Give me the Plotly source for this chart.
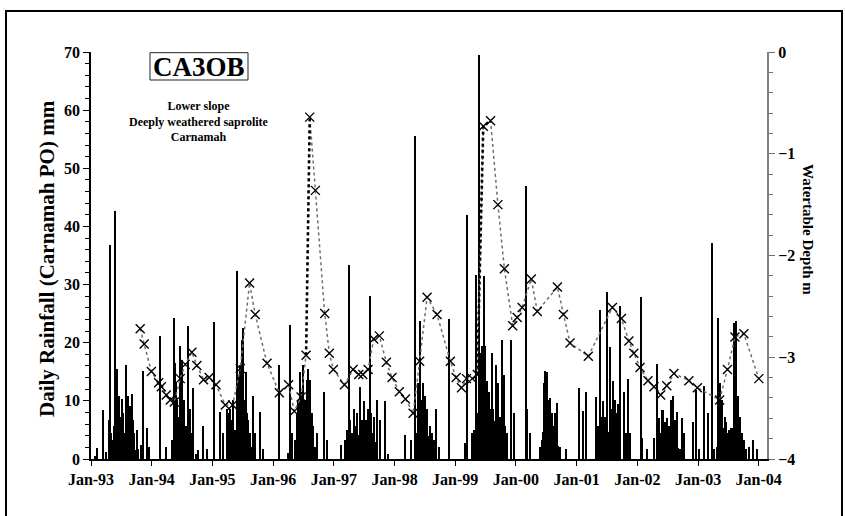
import plotly.graph_objects as go

# ---- daily rainfall, Carnamah PO (month-day, mm) ----
rain_1993 = [("01-26", 0.5), ("02-07", 1.9), ("03-12", 8.5), ("04-02", 1.2), ("04-22", 6.7),
             ("04-26", 36.8), ("04-29", 2.8), ("05-02", 4.4), ("05-07", 1.6), ("05-12", 3.3),
             ("05-16", 2.2), ("05-20", 5.6), ("05-26", 42.6), ("06-01", 10.2), ("06-06", 15.5),
             ("06-10", 3.1), ("06-15", 5.0), ("06-21", 10.8), ("06-25", 2.6), ("06-30", 7.3),
             ("07-06", 10.4), ("07-10", 3.4), ("07-15", 7.9), ("07-20", 2.5), ("07-24", 4.4),
             ("07-31", 16.1), ("08-04", 3.0), ("08-11", 10.8), ("08-15", 2.3), ("08-19", 5.6),
             ("08-25", 9.2), ("08-30", 1.9), ("09-04", 11.2), ("09-10", 6.7), ("09-14", 2.7),
             ("09-19", 4.4), ("09-26", 1.5), ("10-04", 5.0), ("10-14", 1.8), ("10-28", 2.4),
             ("11-13", 15.1), ("12-03", 5.4), ("12-17", 2.1)]
rain_1994 = [("02-21", 21.2), ("03-29", 2.1), ("05-02", 3.3), ("05-10", 2.4), ("05-16", 24.2),
             ("05-22", 16.5), ("05-25", 4.0), ("05-28", 13.1), ("06-05", 10.2), ("06-08", 3.2),
             ("06-11", 7.3), ("06-15", 4.5), ("06-21", 19.4), ("06-27", 3.8), ("07-01", 17.1),
             ("07-05", 4.2), ("07-09", 8.6), ("07-13", 3.0), ("07-17", 10.2), ("07-22", 2.8),
             ("07-27", 5.6), ("08-01", 3.6), ("08-06", 22.9), ("08-10", 2.9), ("08-14", 6.7),
             ("08-20", 8.6), ("08-25", 2.2), ("08-31", 4.4), ("09-04", 1.8), ("09-09", 12.2),
             ("09-25", 0.8), ("10-09", 1.5), ("11-04", 5.6), ("11-29", 1.8)]
rain_1995 = [("01-12", 23.5), ("02-17", 8.0), ("03-09", 4.4), ("03-29", 8.6), ("04-03", 2.5),
             ("04-08", 7.9), ("04-13", 3.1), ("04-18", 8.6), ("04-23", 2.2), ("04-28", 6.7),
             ("05-03", 3.5), ("05-08", 10.2), ("05-13", 2.7), ("05-18", 5.0), ("05-24", 3.9),
             ("05-29", 32.3), ("06-02", 4.6), ("06-07", 14.4), ("06-12", 3.3), ("06-17", 16.1),
             ("06-22", 4.0), ("06-28", 20.5), ("07-02", 3.7), ("07-07", 22.5), ("07-14", 10.2),
             ("07-18", 2.9), ("07-22", 14.9), ("07-28", 7.9), ("08-02", 3.1), ("08-07", 6.7),
             ("08-12", 2.4), ("08-17", 4.4), ("08-25", 2.0), ("09-01", 2.6), ("09-06", 10.8),
             ("09-16", 4.4), ("10-16", 8.0), ("11-05", 1.8)]
rain_1996 = [("02-07", 16.1), ("04-03", 1.0), ("04-13", 23.0), ("04-23", 4.4), ("05-13", 3.3),
             ("05-18", 2.6), ("05-23", 7.9), ("05-28", 3.8), ("06-02", 10.2), ("06-07", 4.4),
             ("06-12", 14.9), ("06-17", 5.2), ("06-22", 11.5), ("06-27", 4.7), ("07-02", 16.1),
             ("07-07", 5.5), ("07-12", 10.2), ("07-17", 4.9), ("07-23", 13.6), ("07-28", 5.3),
             ("08-01", 15.4), ("08-06", 4.1), ("08-12", 13.6), ("08-17", 3.6), ("08-22", 7.9),
             ("08-27", 2.8), ("09-01", 5.6), ("09-08", 2.1), ("09-21", 4.4), ("11-01", 11.5),
             ("11-21", 3.3)]
rain_1997 = [("02-13", 2.4), ("03-11", 3.3), ("03-22", 5.0), ("03-31", 33.4), ("04-05", 2.2),
             ("04-10", 6.7), ("04-15", 2.9), ("04-21", 4.4), ("04-25", 3.3), ("04-30", 8.6),
             ("05-05", 2.6), ("05-10", 5.6), ("05-15", 3.8), ("05-21", 7.9), ("05-27", 4.2),
             ("06-05", 12.4), ("06-10", 3.5), ("06-15", 4.6), ("06-20", 6.7), ("06-25", 3.9),
             ("06-30", 9.9), ("07-05", 3.1), ("07-10", 5.6), ("07-16", 6.7), ("07-20", 3.4),
             ("07-24", 8.6), ("07-30", 2.7), ("08-05", 28.0), ("08-10", 3.0), ("08-14", 7.9),
             ("08-21", 4.4), ("08-25", 2.5), ("08-29", 7.3), ("09-05", 2.0), ("09-10", 3.0),
             ("09-18", 10.2), ("10-08", 6.7), ("11-07", 9.9), ("11-21", 0.8)]
rain_1998 = [("03-07", 4.2), ("04-10", 3.3), ("05-06", 55.5), ("05-10", 3.0), ("05-15", 4.5),
             ("05-20", 13.1), ("05-25", 5.2), ("05-29", 10.8), ("06-02", 4.8), ("06-06", 23.7),
             ("06-10", 5.6), ("06-13", 10.2), ("06-17", 6.0), ("06-22", 13.1), ("06-26", 5.1),
             ("07-01", 10.8), ("07-05", 4.7), ("07-10", 7.3), ("07-13", 3.9), ("07-16", 8.6),
             ("07-21", 3.2), ("07-26", 3.9), ("07-30", 2.8), ("08-05", 5.6), ("08-10", 2.4),
             ("08-15", 4.4), ("08-20", 2.1), ("08-25", 3.3), ("09-01", 1.8), ("09-10", 8.6),
             ("09-28", 2.1), ("11-27", 24.1)]
rain_1999 = [("03-03", 2.7), ("03-13", 42.0), ("04-12", 4.4), ("04-22", 5.0), ("04-30", 3.6),
             ("05-06", 31.7), ("05-10", 5.0), ("05-14", 7.9), ("05-18", 6.4), ("05-22", 69.4),
             ("05-27", 7.5), ("06-01", 18.2), ("06-05", 8.2), ("06-11", 19.4), ("06-16", 9.0),
             ("06-21", 31.5), ("06-26", 7.7), ("07-01", 19.4), ("07-06", 8.1), ("07-12", 13.4),
             ("07-16", 6.6), ("07-21", 11.5), ("07-26", 7.0), ("07-31", 8.6), ("08-05", 6.2),
             ("08-11", 18.2), ("08-15", 5.8), ("08-20", 8.6), ("08-25", 6.5), ("08-30", 4.9),
             ("09-04", 16.1), ("09-08", 5.2), ("09-12", 7.9), ("09-19", 13.1), ("09-25", 4.1),
             ("09-30", 7.3), ("10-05", 3.7), ("10-10", 20.5), ("10-15", 4.3), ("10-20", 14.4),
             ("10-25", 3.0), ("10-30", 5.6), ("11-09", 4.4), ("12-05", 20.5), ("12-19", 7.9)]
rain_2000 = [("03-03", 47.0), ("03-09", 8.6), ("03-28", 4.4), ("05-28", 2.1), ("06-05", 3.2),
             ("06-12", 4.6), ("06-17", 13.1), ("06-22", 5.8), ("06-27", 15.1), ("07-02", 6.3),
             ("07-07", 14.9), ("07-12", 5.1), ("07-17", 10.2), ("07-22", 4.4), ("07-27", 10.5),
             ("08-01", 3.9), ("08-06", 7.9), ("08-11", 3.2), ("08-16", 5.6), ("08-21", 2.8),
             ("08-26", 7.9), ("08-31", 3.5), ("09-05", 9.6), ("09-12", 2.3), ("09-25", 2.1),
             ("11-01", 1.8)]
rain_2001 = [("01-14", 12.2), ("02-09", 8.2), ("02-27", 11.5), ("04-29", 10.7), ("05-03", 2.3),
             ("05-08", 5.6), ("05-14", 4.2), ("05-19", 3.4), ("05-24", 25.6), ("06-01", 7.3),
             ("06-05", 3.1), ("06-10", 9.9), ("06-14", 2.6), ("06-18", 7.3), ("06-25", 4.4),
             ("06-29", 3.0), ("07-04", 28.8), ("07-09", 3.8), ("07-14", 4.6), ("07-19", 19.3),
             ("07-24", 3.5), ("07-28", 8.6), ("08-03", 5.6), ("08-09", 13.4), ("08-13", 2.9),
             ("08-17", 10.2), ("08-23", 5.0), ("08-29", 7.9), ("09-01", 2.2), ("09-06", 9.4),
             ("09-10", 2.0), ("09-14", 4.4), ("09-22", 26.3), ("10-12", 11.5), ("10-26", 4.4),
             ("11-09", 13.8), ("11-17", 4.4)]
rain_2002 = [("01-22", 27.8), ("01-31", 3.6), ("02-26", 1.8), ("04-11", 3.6), ("05-01", 16.4),
             ("05-06", 2.4), ("05-13", 7.0), ("05-17", 2.9), ("05-21", 4.4), ("05-25", 3.1),
             ("05-29", 8.5), ("06-02", 3.6), ("06-06", 8.4), ("06-11", 2.8), ("06-16", 6.3),
             ("06-21", 3.3), ("06-26", 7.0), ("06-30", 2.6), ("07-04", 4.4), ("07-08", 3.0),
             ("07-12", 5.6), ("07-16", 2.7), ("07-20", 10.2), ("07-25", 3.4), ("08-01", 10.8),
             ("08-06", 2.9), ("08-13", 6.7), ("08-17", 2.2), ("08-21", 4.4), ("08-25", 2.5),
             ("08-29", 8.1), ("09-05", 1.9), ("09-14", 1.8), ("09-30", 7.0), ("10-08", 4.4),
             ("11-30", 6.3), ("12-18", 11.9)]
rain_2003 = [("01-06", 1.8), ("02-05", 12.6), ("03-01", 7.9), ("03-28", 37.1), ("04-06", 1.8),
             ("04-23", 2.1), ("05-03", 24.2), ("05-08", 3.4), ("05-12", 13.1), ("05-16", 3.0),
             ("05-21", 7.9), ("05-27", 10.2), ("05-31", 2.8), ("06-05", 5.3), ("06-09", 3.1),
             ("06-14", 7.3), ("06-20", 6.3), ("06-24", 2.5), ("06-28", 4.4), ("07-01", 2.9),
             ("07-05", 5.0), ("07-10", 3.2), ("07-16", 5.3), ("07-21", 2.7), ("07-26", 5.3),
             ("07-31", 3.6), ("08-04", 23.4), ("08-08", 4.5), ("08-11", 16.2), ("08-14", 5.1),
             ("08-17", 23.8), ("08-21", 4.8), ("08-24", 10.8), ("08-27", 3.9), ("08-30", 10.8),
             ("09-03", 3.0), ("09-07", 7.3), ("09-13", 7.3), ("09-18", 2.4), ("09-23", 4.4),
             ("10-03", 3.3), ("10-17", 1.8), ("11-06", 2.1), ("11-28", 3.3), ("12-22", 1.8)]

rain_by_year = {1993: rain_1993, 1994: rain_1994, 1995: rain_1995, 1996: rain_1996,
                1997: rain_1997, 1998: rain_1998, 1999: rain_1999, 2000: rain_2000,
                2001: rain_2001, 2002: rain_2002, 2003: rain_2003}

# ---- watertable depth, bore CA3OB (m) ----
wt_dates = ["1993-10-24", "1993-11-17", "1993-12-30", "1994-02-12", "1994-02-28", "1994-03-30",
            "1994-04-23", "1994-05-17", "1994-06-22", "1994-07-22", "1994-08-31", "1994-09-30",
            "1994-11-09", "1994-12-13", "1995-01-23", "1995-03-20", "1995-05-03", "1995-06-18",
            "1995-08-13", "1995-09-16", "1995-11-26", "1996-02-08", "1996-04-04", "1996-05-08",
            "1996-06-18", "1996-07-18", "1996-08-09", "1996-09-12", "1996-11-07", "1996-12-05",
            "1996-12-29", "1997-03-06", "1997-04-27", "1997-05-31", "1997-06-24", "1997-07-26",
            "1997-08-29", "1997-10-02", "1997-11-13", "1997-12-17", "1998-01-30", "1998-03-08",
            "1998-04-23", "1998-06-01", "1998-07-16", "1998-09-14", "1998-12-03", "1999-01-07",
            "1999-02-08", "1999-03-10", "1999-04-14", "1999-05-14", "1999-06-19", "1999-08-02",
            "1999-09-15", "1999-10-24", "1999-12-13", "2000-01-09", "2000-02-08", "2000-04-03",
            "2000-05-09", "2000-09-07", "2000-10-13", "2000-11-22", "2001-03-12", "2001-08-04",
            "2001-09-27", "2001-11-11", "2001-12-11", "2002-01-17", "2002-03-06", "2002-04-11",
            "2002-05-21", "2002-06-27", "2002-08-09", "2002-11-07", "2002-12-28", "2003-05-11",
            "2003-06-27", "2003-08-11", "2003-10-04", "2004-01-02"]
wt_depth = [-2.72, -2.87, -3.14, -3.25, -3.29, -3.37,
            -3.42, -3.44, -3.21, -3.07, -2.95, -3.08,
            -3.22, -3.20, -3.27, -3.47, -3.47, -3.11,
            -2.27, -2.58, -3.06, -3.35, -3.27, -3.53,
            -3.39, -2.98, -0.64, -1.36, -2.57, -2.96,
            -3.12, -3.27, -3.12, -3.17, -3.17, -3.12,
            -2.82, -2.79, -3.05, -3.20, -3.34, -3.41,
            -3.55, -3.04, -2.41, -2.58, -3.04, -3.20,
            -3.30, -3.21, -3.21, -3.17, -0.73, -0.675,
            -1.50, -2.13, -2.69, -2.61, -2.51, -2.23,
            -2.55, -2.31, -2.58, -2.86, -2.99, -2.51,
            -2.62, -2.84, -2.96, -3.10, -3.23, -3.29,
            -3.37, -3.28, -3.16, -3.23, -3.30, -3.42,
            -3.12, -2.80, -2.77, -3.21]

site_name = "CA3OB"
site_notes = ["Lower slope", "Deeply weathered saprolite", "Carnamah"]

# ---- layout geometry (pixels) ----
W, H = 845, 516
L, R, T, B = 91, 767, 52, 459


def px(x):
    return (x - L) / (R - L)


def py(y):
    return (B - y) / (B - T)


rain_x, rain_y = [], []
for yr, pairs in rain_by_year.items():
    for md, mm in pairs:
        rain_x.append(f"{yr}-{md}")
        rain_y.append(mm)

FONT = "Liberation Serif"
DAY_MS = 86400000

fig = go.Figure()

fig.add_trace(go.Bar(
    x=rain_x, y=rain_y, width=[7 * DAY_MS] * len(rain_x),
    marker=dict(color="black", line=dict(width=0)), yaxis="y",
    hoverinfo="x+y",
))

# dotted watertable line
fig.add_trace(go.Scatter(
    x=wt_dates, y=wt_depth, yaxis="y2", mode="lines",
    line=dict(color="#6e6e6e", width=1.5, dash="dot"), hoverinfo="skip",
))

# rapid recharge rises drawn heavier
rise_x, rise_y = [], []
for i in range(1, len(wt_depth)):
    if wt_depth[i] - wt_depth[i - 1] > 1.5:
        rise_x += [wt_dates[i - 1], wt_dates[i], None]
        rise_y += [wt_depth[i - 1], wt_depth[i], None]
fig.add_trace(go.Scatter(
    x=rise_x, y=rise_y, yaxis="y2", mode="lines",
    line=dict(color="black", width=2.6, dash="dot"), hoverinfo="skip",
))

fig.add_trace(go.Scatter(
    x=wt_dates, y=wt_depth, yaxis="y2", mode="markers",
    marker=dict(symbol="x-thin", size=9, color="black", line=dict(width=1.4, color="black")),
))

tickfont = dict(family=FONT, size=16, color="black", weight="bold")

fig.update_layout(
    width=W, height=H,
    margin=dict(l=L, r=W - R, t=T, b=H - B),
    paper_bgcolor="white", plot_bgcolor="white",
    showlegend=False, bargap=0,
    xaxis=dict(
        type="date", range=["1993-01-01", "2004-02-20"],
        tick0="1993-01-01", dtick="M12", tickformat="%b-%y",
        ticks="outside", ticklen=5, tickwidth=1.2, tickcolor="black",
        showline=True, linecolor="black", linewidth=1.5,
        showgrid=False, zeroline=False, tickfont=tickfont,
    ),
    yaxis=dict(
        range=[0, 70], dtick=10, ticks="outside", ticklen=6, tickwidth=1.2, tickcolor="black",
        minor=dict(dtick=2, ticks="outside", ticklen=4, tickcolor="black", tickwidth=1),
        showline=True, linecolor="black", linewidth=1.5,
        showgrid=False, zeroline=False, tickfont=tickfont,
    ),
    yaxis2=dict(
        range=[-4, 0], dtick=1, overlaying="y", side="right",
        ticks="outside", ticklen=6, tickwidth=1.2, tickcolor="#707070",
        minor=dict(dtick=0.2, ticks="outside", ticklen=4, tickcolor="#707070", tickwidth=1),
        showline=True, linecolor="#808080", linewidth=2,
        showgrid=False, zeroline=False, tickfont=tickfont,
    ),
)

annos = [
    dict(text="Daily Rainfall (Carnamah PO) mm", x=px(47), y=py(259), textangle=-90,
         font=dict(family=FONT, size=21, color="black", weight="bold")),
    dict(text="Watertable Depth m", x=px(808), y=py(229), textangle=90,
         font=dict(family=FONT, size=15, color="black", weight="bold")),
    dict(text=site_name, x=px(199), y=py(66.5),
         font=dict(family=FONT, size=27, color="black", weight="bold")),
    # site description block, one centred three-line label
    dict(text="<br>".join(site_notes), x=px(199), y=py(121),
         font=dict(family=FONT, size=12, color="black", weight="bold")),
]
for a in annos:
    a.update(xref="paper", yref="paper", xanchor="center", yanchor="middle", showarrow=False)
fig.update_layout(annotations=annos)

fig.update_layout(shapes=[
    dict(type="rect", xref="paper", yref="paper",
         x0=px(150), x1=px(248), y0=py(80), y1=py(52.7),
         line=dict(color="#222222", width=1)),
    dict(type="rect", xref="paper", yref="paper",
         x0=px(6), x1=px(842), y0=py(522), y1=py(11),
         line=dict(color="black", width=2)),
])

fig.write_html("out.html")
